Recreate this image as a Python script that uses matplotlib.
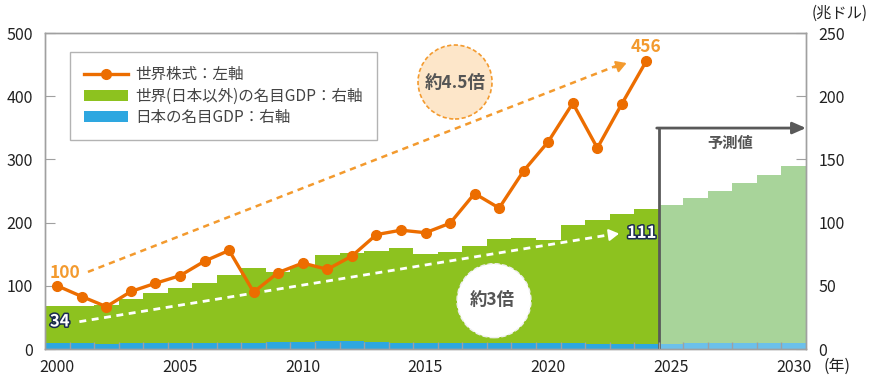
import matplotlib
matplotlib.use("Agg")
import matplotlib.pyplot as plt
from matplotlib.lines import Line2D
from matplotlib.patches import Patch, Circle
import matplotlib.patheffects as pe
import numpy as np

plt.rcParams['font.family'] = ['Noto Sans CJK JP', 'DejaVu Sans']

years = list(range(2000, 2031))
hist_years = list(range(2000, 2025))
fcst_years = list(range(2025, 2031))

# World equities index (2000 = 100), left axis
equity = [100, 83, 67, 91, 104, 116, 139, 156, 90, 121, 136, 126, 147, 181, 188,
          184, 199, 246, 223, 282, 328, 389, 318, 388, 456]

# Japan nominal GDP (trillion USD), right axis
japan_hist = [5.0, 4.4, 4.2, 4.5, 4.9, 4.8, 4.6, 4.6, 5.1, 5.3, 5.8, 6.3, 6.3, 5.2,
              4.9, 4.4, 5.0, 4.9, 5.0, 5.1, 5.0, 5.0, 4.3, 4.2, 4.1]
japan_fcst = [4.2, 4.4, 4.5, 4.6, 4.7, 4.9]

# World total nominal GDP (trillion USD); world ex-Japan = total - Japan
world_total_hist = [34.0, 34.0, 34.8, 39.6, 44.5, 48.3, 52.2, 58.5, 63.8, 61.2, 66.0,
                    74.4, 76.2, 77.5, 79.9, 75.2, 76.5, 81.5, 87.0, 87.8, 86.2, 97.8,
                    102.0, 106.8, 110.8]
world_total_fcst = [113.9, 119.5, 125.0, 131.3, 137.7, 144.8]

world_ex_hist = [t - j for t, j in zip(world_total_hist, japan_hist)]
world_ex_fcst = [t - j for t, j in zip(world_total_fcst, japan_fcst)]

xtick_labels = ['2000', '2005', '2010', '2015', '2020', '2025', '2030']

C_ORANGE = '#ec6d00'
C_ORANGE_L = '#f39a2e'
C_GREEN = '#8dc21f'
C_GREEN_L = '#a8d49a'
C_BLUE = '#2ea7e0'
C_BLUE_L = '#6cc0eb'
C_GRAY = '#a0a0a0'
C_TXT = '#222222'

H = 388
fig = plt.figure(figsize=(8.72, 3.88), dpi=100)
ax = fig.add_axes([45/872, 1-349/388, 761/872, 316/388])
ax2 = ax.twinx()
ax.set_zorder(ax2.get_zorder() + 1)
ax.patch.set_visible(False)

# Bars on right axis
ax2.bar(hist_years, japan_hist, width=1.0, color=C_BLUE, linewidth=0, zorder=2)
ax2.bar(hist_years, world_ex_hist, bottom=japan_hist, width=1.0, color=C_GREEN, linewidth=0, zorder=2)
ax2.bar(fcst_years, japan_fcst, width=1.0, color=C_BLUE_L, linewidth=0, zorder=2)
ax2.bar(fcst_years, world_ex_fcst, bottom=japan_fcst, width=1.0, color=C_GREEN_L, linewidth=0, zorder=2)

ax2.set_ylim(0, 250)
ax.set_ylim(0, 500)
ax.set_xlim(1999.5, 2030.5)

# White dashed arrow (x3) on right axis
ax2.plot([2000.9, 2022.7], [21.6, 91.0], color='white', lw=2.0, ls=(0, (2.5, 2)), zorder=3)
ax2.annotate('', xy=(2023.0, 91.6), xytext=(2022.4, 90.0),
             arrowprops=dict(arrowstyle='-|>,head_length=0.6,head_width=0.35', color='white', lw=1.5),
             zorder=3)
circ2 = Circle((494, H - 300.7), 37, transform=None, facecolor='white', edgecolor='#eeeeee',
               lw=1.0, ls='--', zorder=3)
ax2.add_artist(circ2)
ax2.text(2017.7, 38.5, '約3倍', ha='center', va='center', fontsize=12.5, fontweight='bold',
         color='#555555', zorder=4)
outline = [pe.withStroke(linewidth=2.2, foreground='#1b2b50')]
ax2.text(2000.1, 21.8, '34', ha='center', va='center', fontsize=12, fontweight='bold',
         color='white', path_effects=outline, zorder=4)
ax2.text(2023.8, 91.8, '111', ha='center', va='center', fontsize=12, fontweight='bold',
         color='white', path_effects=outline, zorder=4)

# Forecast marker
ax2.plot([2024.5, 2024.5], [0, 174.8], color='#595959', lw=2, zorder=5, solid_capstyle='butt')
ax2.annotate('', xy=(2030.5, 174.8), xytext=(2024.42, 174.8),
             arrowprops=dict(arrowstyle='-|>,head_length=0.8,head_width=0.35', color='#595959',
                             lw=2, shrinkA=0, shrinkB=0), zorder=5)
ax2.text(2027.4, 163, '予測値', ha='center', va='center', fontsize=11, fontweight='bold',
         color='#555555', zorder=5)

# Orange dotted arrow (x4.5) on left axis
ax.plot([2001.25, 2022.9], [122, 450], color=C_ORANGE_L, lw=1.8, ls=(0, (2.5, 2)), zorder=3)
ax.annotate('', xy=(2023.3, 454), xytext=(2022.6, 444),
            arrowprops=dict(arrowstyle='-|>,head_length=0.6,head_width=0.35', color=C_ORANGE_L, lw=1.5),
            zorder=3)
circ1 = Circle((455, H - 82), 37, transform=None, facecolor='#fde6c9', edgecolor=C_ORANGE_L,
               lw=1.2, ls=(0, (2.5, 1.5)), zorder=3)
ax.add_artist(circ1)
ax.text(2016.2, 421, '約4.5倍', ha='center', va='center', fontsize=12.5, fontweight='bold',
        color='#555555', zorder=4)
ax.text(2000.3, 121, '100', ha='center', va='center', fontsize=12.5, fontweight='bold',
        color=C_ORANGE_L, zorder=4)
ax.text(2024.0, 478, '456', ha='center', va='center', fontsize=12.5, fontweight='bold',
        color=C_ORANGE_L, zorder=4)

# Equity line
ax.plot(hist_years, equity, color=C_ORANGE, lw=2.4, marker='o', markersize=7, zorder=6)

# Axes styling
for a in (ax, ax2):
    for s in a.spines.values():
        s.set_color(C_GRAY)
        s.set_linewidth(1.0)

ax.set_yticks(range(0, 501, 100))
ax2.set_yticks(range(0, 251, 50))
ax.tick_params(axis='y', direction='in', length=7, color=C_GRAY, labelsize=11.5,
               labelcolor=C_TXT, pad=9)
ax2.tick_params(axis='y', direction='in', length=7, color=C_GRAY, labelsize=11.5,
                labelcolor=C_TXT, pad=9)
ax.set_xticks([int(v) for v in xtick_labels])
ax.set_xticklabels(xtick_labels)
ax.tick_params(axis='x', which='major', length=0, labelsize=11.5, labelcolor=C_TXT, pad=7)
ax.set_xticks(np.arange(2000.5, 2030.5, 1), minor=True)
ax.tick_params(axis='x', which='minor', direction='in', length=5, color=C_GRAY, width=1)

fig.text(840/872, 1-13/388, '(兆ドル)', ha='center', va='center', fontsize=11, color=C_TXT)
fig.text(837/872, 1-366/388, '(年)', ha='center', va='center', fontsize=11.5, color=C_TXT)

# Legend
handles = [
    Line2D([0], [0], color=C_ORANGE, lw=2.4, marker='o', markersize=7),
    Patch(facecolor=C_GREEN, edgecolor='none'),
    Patch(facecolor=C_BLUE, edgecolor='none'),
]
labels = ['世界株式：左軸', '世界(日本以外)の名目GDP：右軸', '日本の名目GDP：右軸']
leg = ax.legend(handles, labels, loc='upper left', bbox_to_anchor=(0.033, 0.94),
                fontsize=11.2, frameon=True, fancybox=False, edgecolor=C_GRAY,
                handlelength=2.8, handleheight=0.7, labelspacing=0.3, borderpad=0.9,
                handletextpad=0.5, borderaxespad=0)
leg.get_frame().set_linewidth(1.0)
for t in leg.get_texts():
    t.set_color('#444444')

fig.savefig('out.png', dpi=100)
